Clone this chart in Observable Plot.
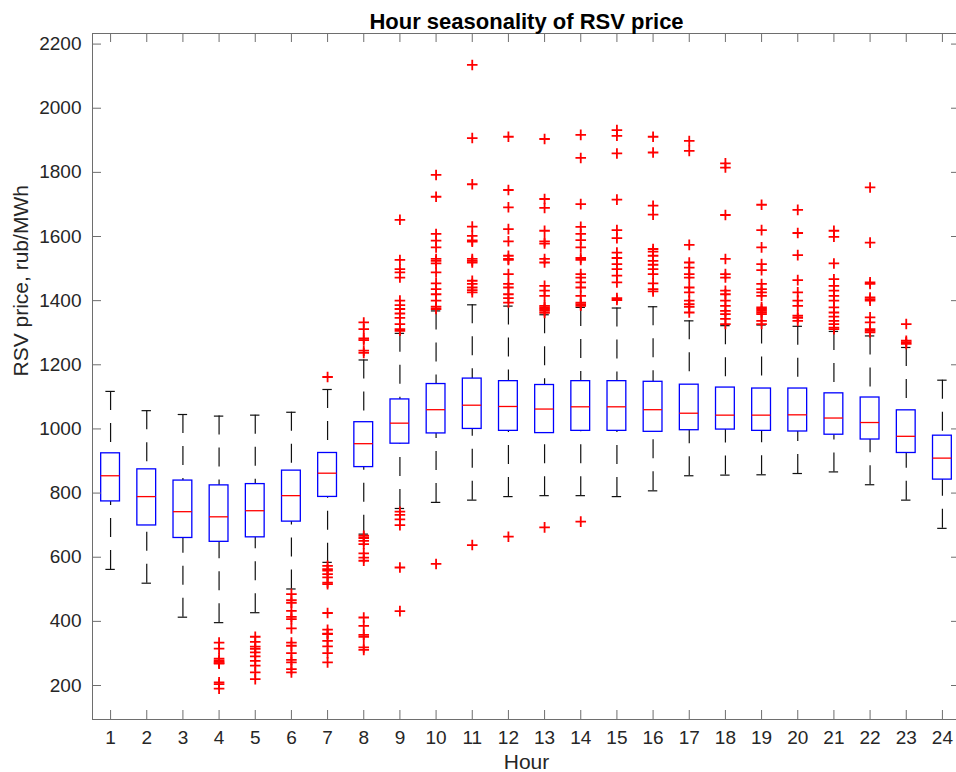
<!DOCTYPE html>
<html>
<head>
<meta charset="utf-8">
<script src="https://cdn.jsdelivr.net/npm/d3@7"></script>
<script src="https://cdn.jsdelivr.net/npm/@observablehq/plot@0.6"></script>
<style>
  html, body { margin: 0; padding: 0; background: #fff; overflow: hidden; }
</style>
</head>
<body>
<div id="chart"></div>
<script>
const hours = [1,2,3,4,5,6,7,8,9,10,11,12,13,14,15,16,17,18,19,20,21,22,23,24];
const q1 = [774,699,660,648,662,711,788,881,954,986,1000,994,987,994,994,991,996,998,994,992,982,967,925,842];
const median = [854,789,742,726,745,792,862,954,1018,1060,1074,1070,1062,1069,1069,1060,1049,1043,1043,1044,1034,1020,977,909];
const q3 = [924,874,839,824,828,870,925,1021,1092,1140,1157,1149,1137,1149,1149,1147,1138,1129,1126,1126,1111,1098,1058,979];
const lowerWhisker = [562,519,413,396,427,501,584,672,752,771,778,789,792,792,789,807,854,856,857,861,866,826,778,690];
const upperWhisker = [1117,1057,1045,1040,1043,1052,1123,1215,1298,1368,1387,1383,1356,1379,1377,1381,1337,1322,1324,1320,1304,1290,1254,1152];
const outliersByHour = [
  [],
  [],
  [],
  [334,315,284,278,274,270,268,210,204,190],
  [352,336,321,314,303,291,277,262,241,220],
  [485,466,458,433,414,407,378,334,324,301,280,272,251,241],
  [1162,573,563,558,547,537,521,516,426,374,362,360,339,322,301,272],
  [1332,1311,1282,1277,1244,1237,667,660,651,641,612,599,589,412,386,358,352,319,311],
  [1652,1527,1498,1488,1472,1400,1386,1374,1360,1346,1327,1311,1306,742,732,718,700,568,432],
  [1792,1724,1608,1587,1566,1530,1524,1516,1488,1454,1436,1420,1400,1381,1374,579],
  [2135,1907,1763,1631,1602,1588,1584,1530,1524,1519,1462,1452,1441,1433,1426,638],
  [1911,1745,1691,1623,1585,1540,1530,1527,1483,1452,1441,1420,1408,1394,664],
  [1904,1717,1689,1618,1585,1578,1530,1519,1446,1431,1415,1384,1379,1374,1368,1362,693],
  [1917,1845,1701,1630,1608,1589,1566,1533,1527,1483,1472,1457,1441,1415,1394,1389,1384,711],
  [1932,1914,1859,1715,1620,1595,1550,1533,1514,1498,1478,1457,1408,1402],
  [1911,1862,1696,1668,1561,1553,1540,1524,1512,1498,1483,1454,1436,1429],
  [1898,1867,1574,1519,1503,1483,1472,1441,1426,1400,1389,1381,1363],
  [1828,1815,1667,1530,1483,1472,1431,1420,1400,1384,1368,1358,1343,1327],
  [1699,1620,1566,1514,1495,1452,1436,1426,1415,1379,1374,1368,1363,1358,1337,1327],
  [1683,1611,1542,1464,1426,1400,1384,1353,1346,1337],
  [1618,1599,1516,1467,1446,1431,1415,1400,1379,1363,1350,1337,1327,1316,1311],
  [1753,1581,1457,1452,1410,1405,1400,1348,1332,1311,1306,1301],
  [1327,1275,1270,1265],
  []
];
const yTicks = [200,400,600,800,1000,1200,1400,1600,1800,2000,2200];
const xTickLabels = hours.map(String);
const title = "Hour seasonality of RSV price";
const xLabel = "Hour";
const yLabel = "RSV price, rub/MWh";

const stats = hours.map((h, i) => ({
  hour: h, q1: q1[i], median: median[i], q3: q3[i], lo: lowerWhisker[i], hi: upperWhisker[i]
}));
const outliers = hours.flatMap((h, i) => outliersByHour[i].map(v => ({hour: h, value: v})));

const W = 956, H = 772;
const mL = 92, mR = -4, mT = 33, mB = 53;
const plotW = W - mL - mR, plotH = H - mT - mB;
const tickLen = 9;
const boxHalf = 0.26, capHalf = 0.13;
const font = "'Liberation Sans', Arial, Helvetica, sans-serif";
const axisColor = "#6e6e6e";
const textColor = "#262626";

const chart = Plot.plot({
  width: W,
  height: H,
  marginLeft: mL,
  marginRight: mR,
  marginTop: mT,
  marginBottom: mB,
  style: {fontFamily: font, background: "#fff", overflow: "visible"},
  x: {type: "linear", domain: [0.5, 24.5], axis: null},
  y: {type: "linear", domain: [94, 2233], axis: null},
  marks: [
    // whiskers (dashed, drawn from the cap toward the box)
    Plot.ruleX(stats, {x: "hour", y1: "hi", y2: "q3", stroke: "#111", strokeWidth: 1.2, strokeDasharray: "19,13"}),
    Plot.ruleX(stats, {x: "hour", y1: "lo", y2: "q1", stroke: "#111", strokeWidth: 1.2, strokeDasharray: "19,13"}),
    // caps
    Plot.ruleY(stats, {y: "hi", x1: d => d.hour - capHalf, x2: d => d.hour + capHalf, stroke: "#111", strokeWidth: 1.2}),
    Plot.ruleY(stats, {y: "lo", x1: d => d.hour - capHalf, x2: d => d.hour + capHalf, stroke: "#111", strokeWidth: 1.2}),
    // boxes
    Plot.rect(stats, {x1: d => d.hour - boxHalf, x2: d => d.hour + boxHalf, y1: "q1", y2: "q3", fill: "white", stroke: "#0000ff", strokeWidth: 1.3}),
    // medians
    Plot.ruleY(stats, {y: "median", x1: d => d.hour - boxHalf, x2: d => d.hour + boxHalf, stroke: "#ff0000", strokeWidth: 1.3}),
    // outliers
    Plot.dot(outliers, {x: "hour", y: "value", symbol: "plus", r: 3.5, stroke: "#ff0000", strokeWidth: 1.8}),
    // frame
    Plot.frame({stroke: axisColor, strokeWidth: 1}),
    // inward ticks
    Plot.tickY(yTicks, {y: d => d, insetRight: plotW - tickLen, stroke: axisColor}),
    Plot.tickY(yTicks, {y: d => d, insetLeft: plotW - tickLen, stroke: axisColor}),
    Plot.tickX(hours, {x: d => d, insetTop: plotH - tickLen, stroke: axisColor}),
    Plot.tickX(hours, {x: d => d, insetBottom: plotH - tickLen, stroke: axisColor}),
    // tick labels
    Plot.text(yTicks, {y: d => d, text: d => String(d), frameAnchor: "left", dx: -11, textAnchor: "end", lineAnchor: "middle", fontSize: 19, fill: textColor}),
    Plot.text(hours, {x: d => d, text: (d, i) => xTickLabels[i], frameAnchor: "bottom", dy: 24, lineAnchor: "bottom", textAnchor: "middle", fontSize: 19, fill: textColor}),
    // axis labels & title
    Plot.text([xLabel], {text: d => d, frameAnchor: "bottom", dy: 49, lineAnchor: "bottom", fontSize: 21, fill: textColor}),
    Plot.text([yLabel], {text: d => d, frameAnchor: "left", dx: -65, rotate: -90, lineAnchor: "bottom", fontSize: 21, fill: textColor}),
    Plot.text([title], {text: d => d, frameAnchor: "top", dy: -5, lineAnchor: "bottom", fontSize: 22, fontWeight: "bold", fill: "#000"})
  ]
});
document.getElementById("chart").appendChild(chart);
</script>
</body>
</html>
